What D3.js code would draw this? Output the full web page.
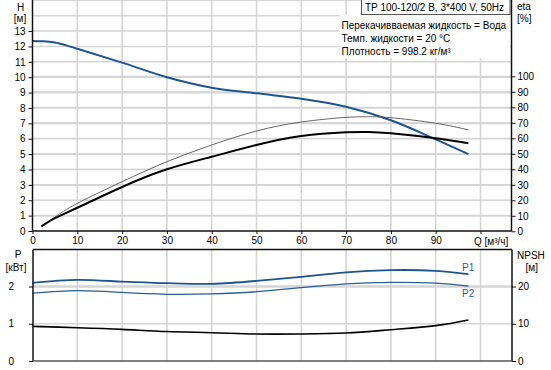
<!DOCTYPE html>
<html><head><meta charset="utf-8">
<script src="https://cdn.jsdelivr.net/npm/d3@7/dist/d3.min.js"></script>
<style>
body{margin:0;background:#fff;}
svg{display:block;font-family:"Liberation Sans",Arial,sans-serif;font-size:10px;}
</style></head><body>
<svg id="c" width="551" height="370"></svg>
<script>
// ---- data ----
const qTicks = [0,10,20,30,40,50,60,70,80,90];
const hTicks = [0,1,2,3,4,5,6,7,8,9,10,11,12,13];
const etaTicks = [0,10,20,30,40,50,60,70,80,90,100];
const pTicks = [0,1,2];
const npshTicks = [0,10,20];

const qH = [0,2.5,5,7.5,10,20,30,40,50,60,70,80,90,97.3];
const headH = [12.35,12.33,12.25,12.07,11.85,10.95,10.0,9.32,8.95,8.6,8.08,7.2,5.96,5.0];

const qEta = [2,5,10,20,30,40,50,60,70,75,80,90,97.3];
const etaPump = [3.2,8.5,15.2,28.6,40,48.1,55.7,61.5,63.9,64.1,63.2,60,56.8];
const etaHyd  = [3.2,9.2,18,32,44.9,55.7,64.7,70.5,73.5,73.9,73.3,69.7,65.4];

const qP = [0,10,20,30,40,50,60,70,80,90,97.3];
const p1 = [2.10,2.18,2.13,2.09,2.07,2.15,2.26,2.38,2.44,2.42,2.33];
const p2 = [1.82,1.89,1.84,1.79,1.80,1.86,1.97,2.07,2.11,2.09,2.01];
const npsh = [9.3,8.94,8.5,7.9,7.6,7.25,7.25,7.5,8.4,9.5,11.0];

const titleText = "TP 100-120/2 B, 3*400 V, 50Hz";
const infoLines = ["Перекачивваемая жидкость = Вода","Темп. жидкости = 20 °C","Плотность = 998.2 кг/м³"];

// ---- scales ----
const FONT = "Liberation Sans, Arial, sans-serif";
const svg = d3.select("#c");
const x = d3.scaleLinear().domain([0,100]).range([32.5,480.5]);
const yH = d3.scaleLinear().domain([0,15]).range([231,0.3]);
const yEta = d3.scaleLinear().domain([0,100]).range([231.3,76.3]);
const yP = d3.scaleLinear().domain([0,3]).range([361,249.25]);
const yN = d3.scaleLinear().domain([0,30]).range([361,249.25]);

const gridC = "#d5d5d5";
const blue = "#1d5591";

// ---- top plot grid ----
const gTop = svg.append("g");
d3.range(10,101,10).forEach(v=>{
  gTop.append("line").attr("x1",x(v)).attr("x2",x(v)).attr("y1",0).attr("y2",231)
    .attr("stroke",gridC).attr("stroke-width",1.6);
});
d3.range(1,16).forEach(v=>{
  gTop.append("line").attr("x1",32.5).attr("x2",511.5).attr("y1",yH(v)).attr("y2",yH(v))
    .attr("stroke",gridC).attr("stroke-width",1.6);
});
etaTicks.slice(1).forEach(v=>{
  gTop.append("line").attr("x1",32.5).attr("x2",511.5).attr("y1",yEta(v)).attr("y2",yEta(v))
    .attr("stroke",gridC).attr("stroke-width",1.3);
});

// info box background
svg.append("rect").attr("x",340).attr("y",15).attr("width",170).attr("height",43).attr("fill","#fff");
svg.append("rect").attr("x",361.5).attr("y",-1).attr("width",148.5).attr("height",15.5)
  .attr("fill","#fff").attr("stroke","#555").attr("stroke-width",1);
svg.append("text").attr("x",365).attr("y",11).attr("fill","#000").text(titleText);
infoLines.forEach((t,i)=>{
  svg.append("text").attr("x",341.5).attr("y",29.3+i*12.7).attr("fill","#000").text(t);
});

// ---- top plot curves ----
const lineH = d3.line().x((d,i)=>x(qH[i])).y(d=>yH(d)).curve(d3.curveMonotoneX);
svg.append("path").attr("d",lineH(headH)).attr("fill","none").attr("stroke",blue).attr("stroke-width",2);
const lineE = d3.line().x((d,i)=>x(qEta[i])).y(d=>yEta(d)).curve(d3.curveNatural);
svg.append("path").attr("d",lineE(etaHyd)).attr("fill","none").attr("stroke","#555").attr("stroke-width",0.9);
svg.append("path").attr("d",lineE(etaPump)).attr("fill","none").attr("stroke","#000").attr("stroke-width",2);

// ---- top axes ----
const axH = d3.axisLeft(yH).tickValues(hTicks).tickSize(4).tickPadding(3).tickFormat(d3.format("d"));
const gH = svg.append("g").attr("transform","translate(32.5,0)").call(axH);
gH.select(".domain").attr("d","M0,0V231");
const axE = d3.axisRight(yEta).tickValues(etaTicks).tickSize(4).tickPadding(2).tickFormat(d3.format("d"));
const gE = svg.append("g").attr("transform","translate(511.5,0)").call(axE);
gE.select(".domain").attr("d","M0,0V231.3");
const axQ = d3.axisBottom(x).tickValues(qTicks.concat([100])).tickSize(3).tickPadding(3)
  .tickFormat(d=>d===100?"":d3.format("d")(d));
const gQ = svg.append("g").attr("transform","translate(0,231)").call(axQ);
gQ.select(".domain").attr("d","M32.5,0H511.5");
svg.append("text").attr("x",474).attr("y",244.5).attr("fill","#000").text("Q [м³/ч]");

[gH,gE,gQ].forEach(g=>{
  g.selectAll("text").attr("font-size",10).attr("font-family",FONT).attr("fill","#000");
  g.selectAll(".domain").attr("stroke","#111").attr("stroke-width",1.5);
  g.selectAll(".tick line").attr("stroke","#111");
});

svg.append("text").attr("x",20.5).attr("y",10.5).attr("text-anchor","middle").text("H");
svg.append("text").attr("x",20).attr("y",21.5).attr("text-anchor","middle").text("[м]");
svg.append("text").attr("x",517).attr("y",10).text("eta");
svg.append("text").attr("x",517).attr("y",21.5).text("[%]");

// ---- bottom plot ----
const gB = svg.append("g");
d3.range(10,101,10).forEach(v=>{
  gB.append("line").attr("x1",x(v)).attr("x2",x(v)).attr("y1",249.5).attr("y2",361)
    .attr("stroke",gridC).attr("stroke-width",1.6);
});
[1,2].forEach(v=>{
  gB.append("line").attr("x1",33).attr("x2",512).attr("y1",yP(v)).attr("y2",yP(v))
    .attr("stroke",gridC).attr("stroke-width",v===2?2.6:1.6);
});

const lineP = d3.line().x((d,i)=>x(qP[i])).y(d=>yP(d)).curve(d3.curveNatural);
const lineN = d3.line().x((d,i)=>x(qP[i])).y(d=>yN(d)).curve(d3.curveNatural);
svg.append("path").attr("d",lineP(p1)).attr("fill","none").attr("stroke",blue).attr("stroke-width",1.8);
svg.append("path").attr("d",lineP(p2)).attr("fill","none").attr("stroke","#2a5f98").attr("stroke-width",1.3);
svg.append("path").attr("d",lineN(npsh)).attr("fill","none").attr("stroke","#000").attr("stroke-width",1.6);

svg.append("text").attr("x",462).attr("y",271).attr("fill","#2a5f98").text("P1");
svg.append("text").attr("x",462).attr("y",297).attr("fill","#2a5f98").text("P2");

const axP = d3.axisLeft(yP).tickValues(pTicks).tickSize(4).tickPadding(15).tickFormat(d3.format("d"));
const gP = svg.append("g").attr("transform","translate(33,0)").call(axP);
gP.select(".domain").attr("d","M0,249.5V361");
const axN = d3.axisRight(yN).tickValues(npshTicks).tickSize(4).tickPadding(2).tickFormat(d3.format("d"));
const gN = svg.append("g").attr("transform","translate(512,0)").call(axN);
gN.select(".domain").attr("d","M0,249.5V361");
[gP,gN].forEach(g=>{
  g.selectAll("text").attr("font-size",10).attr("font-family",FONT).attr("fill","#000");
  g.selectAll(".domain").attr("stroke","#111").attr("stroke-width",1.5);
  g.selectAll(".tick line").attr("stroke","#111");
});
svg.append("line").attr("x1",33).attr("x2",512).attr("y1",249.5).attr("y2",249.5).attr("stroke","#111").attr("stroke-width",1.5);
svg.append("line").attr("x1",33).attr("x2",512).attr("y1",361).attr("y2",361).attr("stroke","#555").attr("stroke-width",1.5);

svg.append("text").attr("x",18).attr("y",257.5).attr("text-anchor","middle").text("P");
svg.append("text").attr("x",16).attr("y",271).attr("text-anchor","middle").text("[кВт]");
svg.append("text").attr("x",517).attr("y",258.5).text("NPSH");
svg.append("text").attr("x",525.5).attr("y",271).text("[м]");
</script>
</body></html>
